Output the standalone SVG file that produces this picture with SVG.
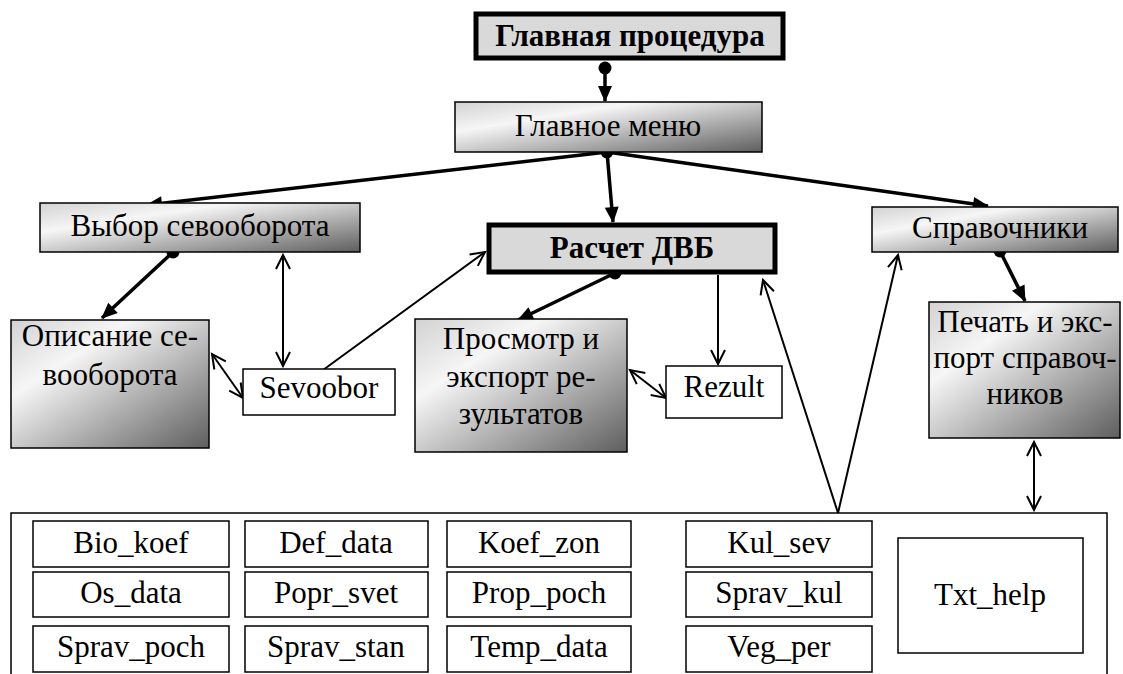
<svg xmlns="http://www.w3.org/2000/svg" width="1123" height="674" viewBox="0 0 1123 674" font-family="'Liberation Serif', serif">
<defs>
<linearGradient id="g" x1="0" y1="0" x2="1" y2="1">
<stop offset="0" stop-color="#d2d2d2"/>
<stop offset="0.3" stop-color="#f6f6f6"/>
<stop offset="1" stop-color="#5e5e5e"/>
</linearGradient>
<marker id="af" markerUnits="userSpaceOnUse" markerWidth="16" markerHeight="14" refX="15" refY="7" orient="auto" overflow="visible">
<path d="M0,0 L16,7 L0,14 z" fill="#000"/>
</marker>
<marker id="ao" markerUnits="userSpaceOnUse" markerWidth="17" markerHeight="16" refX="15" refY="8" orient="auto-start-reverse" overflow="visible">
<path d="M1,1 L15,8 L1,15" fill="none" stroke="#000" stroke-width="2"/>
</marker>
<style>
text{font-family:'Liberation Serif',serif}
.gr{fill:url(#g);stroke:#000;stroke-width:1.5}
.hv{fill:#d9d9d9;stroke:#000;stroke-width:5}
.wh{fill:#fff;stroke:#000;stroke-width:1.5}
.thk{stroke:#000;stroke-width:3.5;fill:none;marker-end:url(#af)}
.thn{stroke:#000;stroke-width:2;fill:none;marker-end:url(#ao)}
.dbl{stroke:#000;stroke-width:2;fill:none;marker-end:url(#ao);marker-start:url(#ao)}
</style>
</defs>
<rect width="1123" height="674" fill="#fff"/>

<g id="connectors">
<line class="thk" x1="605" y1="68" x2="605" y2="101"/>
<line class="thk" x1="607" y1="152" x2="147" y2="205"/>
<line class="thk" x1="607" y1="152" x2="613" y2="222"/>
<line class="thk" x1="607" y1="152" x2="988" y2="206"/>
<line class="thk" x1="173" y1="252" x2="102" y2="318"/>
<line class="thk" x1="615" y1="273" x2="518" y2="320"/>
<line class="thk" x1="1000" y1="251" x2="1025" y2="301"/>
<line class="dbl" x1="283" y1="255" x2="283" y2="366"/>
<line class="dbl" x1="212" y1="354" x2="243" y2="398"/>
<line class="thn" x1="323" y1="370" x2="485" y2="252"/>
<line class="thn" x1="718" y1="275" x2="718" y2="364"/>
<line class="dbl" x1="630" y1="370" x2="666" y2="398"/>
<line class="thn" x1="838" y1="513" x2="763" y2="280"/>
<line class="thn" x1="838" y1="513" x2="898" y2="255"/>
<line class="dbl" x1="1034" y1="442" x2="1034" y2="510"/>
<circle cx="605" cy="68" r="6.5"/>
<circle cx="607" cy="152" r="6.5"/>
<circle cx="173" cy="252" r="6.5"/>
<circle cx="615" cy="273" r="6.5"/>
<circle cx="1000" cy="251" r="6.5"/>
</g>

<g id="glavnaya_procedura">
<rect class="hv" x="476" y="14" width="307" height="44"/>
<text x="630" y="46" font-family="Liberation Serif" font-size="31" font-weight="bold" text-anchor="middle">Главная процедура</text>
</g>
<g id="glavnoe_menu">
<rect class="gr" x="455" y="102" width="307" height="50"/>
<text x="608" y="136" font-family="Liberation Serif" font-size="31" text-anchor="middle">Главное меню</text>
</g>
<g id="vybor">
<rect class="gr" x="40" y="203" width="320" height="49"/>
<text x="200" y="236" font-family="Liberation Serif" font-size="31" text-anchor="middle">Выбор севооборота</text>
</g>
<g id="raschet">
<rect class="hv" x="489" y="225" width="286" height="47"/>
<text x="632" y="258" font-family="Liberation Serif" font-size="31" font-weight="bold" text-anchor="middle">Расчет ДВБ</text>
</g>
<g id="spravochniki">
<rect class="gr" x="872" y="207" width="246" height="45"/>
<text x="1000" y="238" font-family="Liberation Serif" font-size="31" text-anchor="middle">Справочники</text>
</g>
<g id="opisanie">
<rect class="gr" x="11" y="320" width="198" height="128"/>
<text x="110" y="346" font-family="Liberation Serif" font-size="31" text-anchor="middle">Описание се-</text>
<text x="110" y="385" font-family="Liberation Serif" font-size="31" text-anchor="middle">вооборота</text>
</g>
<g id="sevoobor">
<rect class="wh" x="243" y="369" width="152" height="46"/>
<text x="319" y="398" font-family="Liberation Serif" font-size="31" text-anchor="middle">Sevoobor</text>
</g>
<g id="prosmotr">
<rect class="gr" x="415" y="319" width="212" height="133"/>
<text x="521" y="349" font-family="Liberation Serif" font-size="31" text-anchor="middle">Просмотр и</text>
<text x="521" y="387" font-family="Liberation Serif" font-size="31" text-anchor="middle">экспорт ре-</text>
<text x="521" y="424" font-family="Liberation Serif" font-size="31" text-anchor="middle">зультатов</text>
</g>
<g id="rezult">
<rect class="wh" x="666" y="366" width="116" height="52"/>
<text x="724" y="397" font-family="Liberation Serif" font-size="31" text-anchor="middle">Rezult</text>
</g>
<g id="pechat">
<rect class="gr" x="929" y="302" width="191" height="136"/>
<text x="1025" y="332" font-family="Liberation Serif" font-size="31" text-anchor="middle">Печать и экс-</text>
<text x="1025" y="368" font-family="Liberation Serif" font-size="31" text-anchor="middle">порт справоч-</text>
<text x="1025" y="404" font-family="Liberation Serif" font-size="31" text-anchor="middle">ников</text>
</g>

<g id="tables">
<path d="M11,674 V513 H1107 V674" fill="none" stroke="#000" stroke-width="1.5"/>
<g id="bio_koef"><rect class="wh" x="33" y="521" width="196" height="46"/><text x="131" y="553" font-family="Liberation Serif" font-size="31" text-anchor="middle">Bio_koef</text></g>
<g id="def_data"><rect class="wh" x="245" y="521" width="183" height="46"/><text x="336" y="553" font-family="Liberation Serif" font-size="31" text-anchor="middle">Def_data</text></g>
<g id="koef_zon"><rect class="wh" x="447" y="521" width="184" height="46"/><text x="539" y="553" font-family="Liberation Serif" font-size="31" text-anchor="middle">Koef_zon</text></g>
<g id="kul_sev"><rect class="wh" x="686" y="521" width="186" height="46"/><text x="779" y="553" font-family="Liberation Serif" font-size="31" text-anchor="middle">Kul_sev</text></g>
<g id="os_data"><rect class="wh" x="33" y="572" width="196" height="45"/><text x="131" y="603" font-family="Liberation Serif" font-size="31" text-anchor="middle">Os_data</text></g>
<g id="popr_svet"><rect class="wh" x="245" y="572" width="183" height="45"/><text x="336" y="603" font-family="Liberation Serif" font-size="31" text-anchor="middle">Popr_svet</text></g>
<g id="prop_poch"><rect class="wh" x="447" y="572" width="184" height="45"/><text x="539" y="603" font-family="Liberation Serif" font-size="31" text-anchor="middle">Prop_poch</text></g>
<g id="sprav_kul"><rect class="wh" x="686" y="572" width="186" height="45"/><text x="779" y="603" font-family="Liberation Serif" font-size="31" text-anchor="middle">Sprav_kul</text></g>
<g id="sprav_poch"><rect class="wh" x="33" y="626" width="196" height="46"/><text x="131" y="657" font-family="Liberation Serif" font-size="31" text-anchor="middle">Sprav_poch</text></g>
<g id="sprav_stan"><rect class="wh" x="245" y="626" width="183" height="46"/><text x="336" y="657" font-family="Liberation Serif" font-size="31" text-anchor="middle">Sprav_stan</text></g>
<g id="temp_data"><rect class="wh" x="447" y="626" width="184" height="46"/><text x="539" y="657" font-family="Liberation Serif" font-size="31" text-anchor="middle">Temp_data</text></g>
<g id="veg_per"><rect class="wh" x="686" y="626" width="186" height="46"/><text x="779" y="657" font-family="Liberation Serif" font-size="31" text-anchor="middle">Veg_per</text></g>
<g id="txt_help"><rect class="wh" x="898" y="538" width="185" height="115"/><text x="990" y="605" font-family="Liberation Serif" font-size="31" text-anchor="middle">Txt_help</text></g>
</g>
</svg>
